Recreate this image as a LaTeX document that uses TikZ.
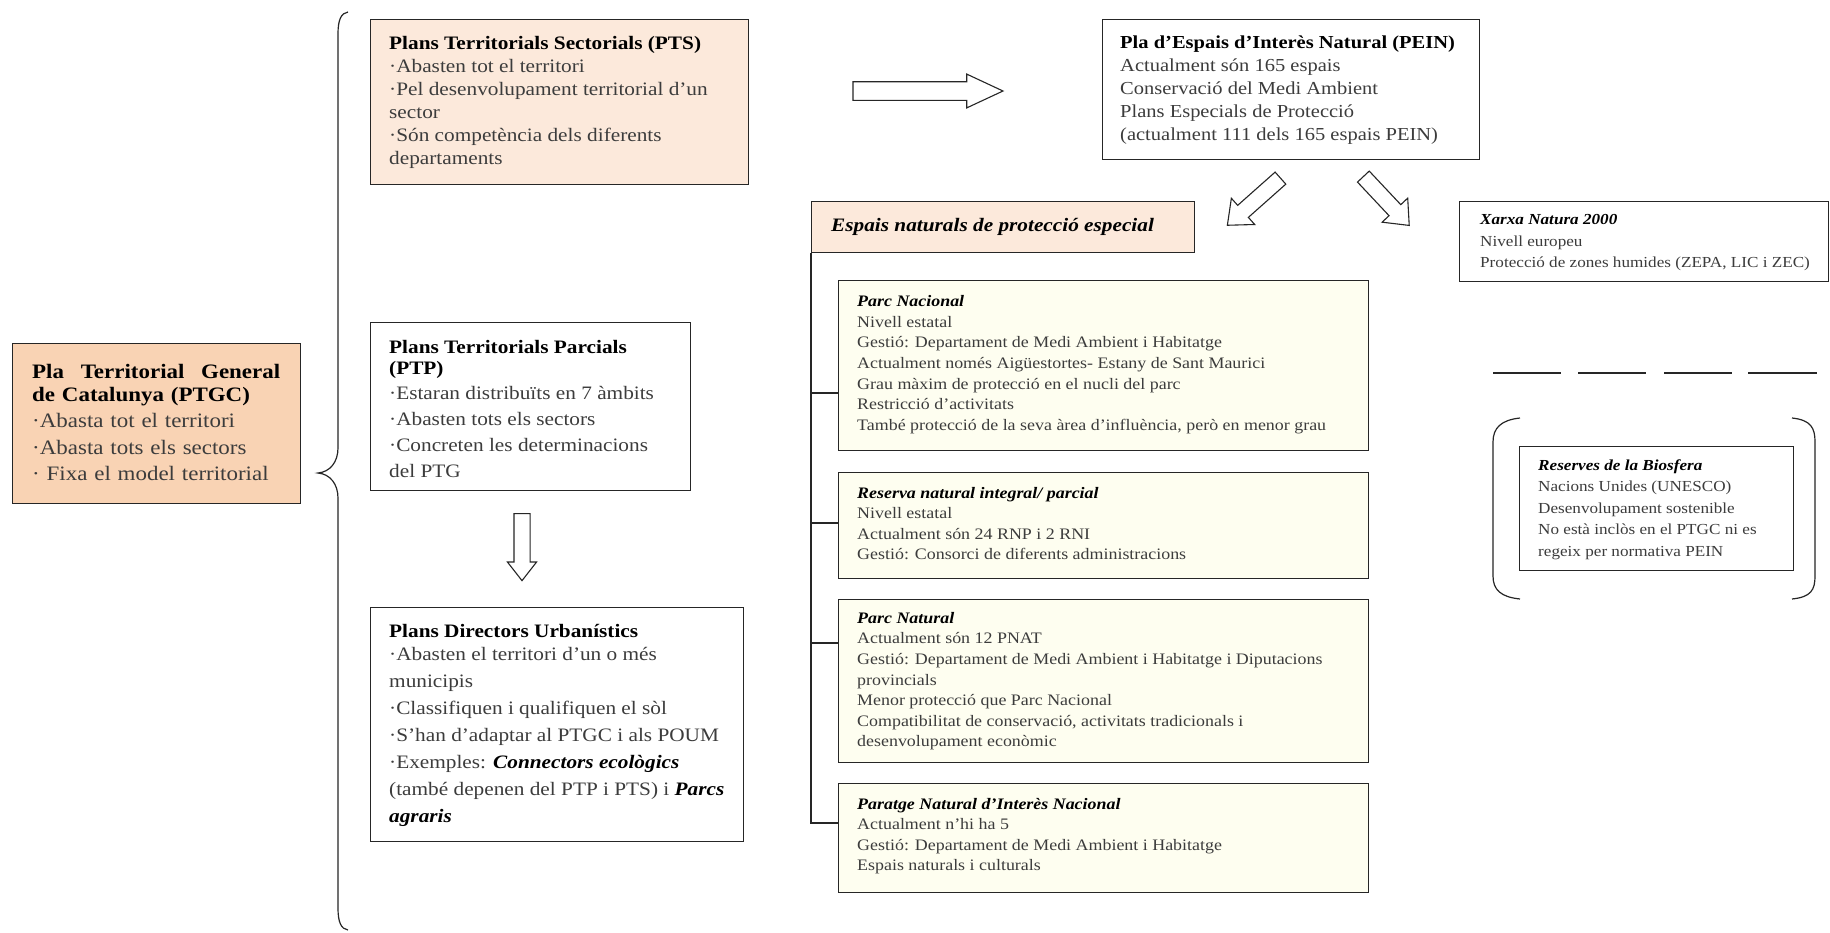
\documentclass[tikz,border=0pt]{standalone}
\usepackage{fontspec}
\setmainfont{Liberation Serif}[FakeStretch=1.12]
\usetikzlibrary{shapes.arrows,calc}
\definecolor{peach}{HTML}{F9D3B4}
\definecolor{lpeach}{HTML}{FCE9DB}
\definecolor{ivory}{HTML}{FEFEF0}
\definecolor{bodytxt}{HTML}{3C3C3C}
\definecolor{edge}{HTML}{262626}
\newcommand\boxhead[1]{{\color{black}\bfseries #1}}
\newcommand\boxheadit[1]{{\color{black}\bfseries\itshape #1}}
\begin{document}
\begin{tikzpicture}[x=1pt,y=-1pt,
  box/.style={draw=edge, line width=1.3pt, anchor=north west, inner sep=0pt},
  btext/.style={anchor=west, align=left, inner sep=0pt, text=bodytxt},
  bigtxt/.style={font=\fontsize{19}{23}\selectfont},
  smalltxt/.style={font=\fontsize{16}{20.6}\selectfont},
  tinytxt/.style={font=\fontsize{15.3}{21.5}\selectfont},
  yellowbox/.style={box, fill=ivory, minimum width=530pt},
  blockarrow/.style={single arrow, draw=edge, fill=white, line width=1.1pt, inner sep=0pt},
  conn/.style={draw=edge, line width=1.3pt}]
\fill[white] (0,0) rectangle (1830,932);
\useasboundingbox (0,0) rectangle (1830,932);

% left column
\node[box, fill=peach, minimum width=288pt, minimum height=160pt] (ptgc) at (12,343) {};
\node[btext, font=\fontsize{20.5}{26.5}\selectfont, text width=248pt] (ptgcT) at ($(ptgc.west)+(20,-1)$)
 {\boxhead{Pla\hfill Territorial\hfill General}\\[-3.5pt]\boxhead{de Catalunya (PTGC)}\\·Abasta tot el territori\\·Abasta tots els sectors\\· Fixa el model territorial};

\draw[conn, line width=1.2pt] (348,12) .. controls (341,13) and (338,20) .. (338,34) -- (338,448)
  .. controls (338,462) and (330,472) .. (318,473) .. controls (330,474) and (338,484) .. (338,498)
  -- (338,908) .. controls (338,922) and (341,929) .. (348,930);

\node[box, fill=lpeach, minimum width=378pt, minimum height=165pt] (pts) at (370,19) {};
\node[btext, bigtxt] (ptsT) at ($(pts.west)+(19,0)$)
 {\boxhead{Plans Territorials Sectorials (PTS)}\\·Abasten tot el territori\\·Pel desenvolupament territorial d'un\\sector\\·Són competència dels diferents\\departaments};

\node[box, fill=white, minimum width=320pt, minimum height=168pt] (ptp) at (370,322) {};
\node[btext, font=\fontsize{19}{25.7}\selectfont] (ptpT) at ($(ptp.west)+(19,2)$)
 {\boxhead{Plans Territorials Parcials}\\[-4.7pt]\boxhead{(PTP)}\\·Estaran distribuïts en 7 àmbits\\·Abasten tots els sectors\\·Concreten les determinacions\\del PTG};

\node[box, fill=white, minimum width=373pt, minimum height=234pt] (pdu) at (370,607) {};
\node[btext, font=\fontsize{19}{27}\selectfont] (pduT) at ($(pdu.west)+(19,1)$)
 {\boxhead{Plans Directors Urbanístics}\\[-4pt]·Abasten el territori d'un o més\\municipis\\·Classifiquen i qualifiquen el sòl\\·S'han d'adaptar al PTGC i als POUM\\·Exemples: \boxheadit{Connectors ecològics}\\(també depenen del PTP i PTS) i \boxheadit{Parcs}\\\boxheadit{agraris}};

\node[blockarrow, minimum height=67pt, single arrow head extend=6.5pt, single arrow tip angle=76, rotate=-90] (adown) at (522,542) {\rule{0pt}{15pt}};

% top right
\node[blockarrow, minimum height=150pt, single arrow head extend=7.6pt, single arrow tip angle=50] (aright) at (918,91) {\rule{0pt}{17.5pt}};

\node[box, fill=white, minimum width=377pt, minimum height=140pt] (pein) at (1102,19) {};
\node[btext, font=\fontsize{18.3}{23}\selectfont] (peinT) at ($(pein.west)+(18,0)$)
 {\boxhead{Pla d'Espais d'Interès Natural (PEIN)}\\Actualment són 165 espais\\Conservació del Medi Ambient\\Plans Especials de Protecció\\(actualment 111 dels 165 espais PEIN)};

\node[blockarrow, minimum height=71pt, single arrow head extend=9.5pt, single arrow tip angle=80, rotate=221.6] (adl) at (1257.5,198.5) {\rule{0pt}{15pt}};
\node[blockarrow, minimum height=67pt, single arrow head extend=9.5pt, single arrow tip angle=80, rotate=-46.8] (adr) at (1383,197.5) {\rule{0pt}{15pt}};

\node[box, fill=lpeach, line width=1pt, minimum width=383pt, minimum height=51pt] (esp) at (811,201) {};
\node[btext, bigtxt] (espT) at ($(esp.west)+(20,0)$) {\boxheadit{Espais naturals de protecció especial}};

\node[yellowbox, minimum height=170pt] (pn) at (838,280) {};
\node[btext, smalltxt] (pnT) at ($(pn.west)+(19,-1)$)
 {\boxheadit{Parc Nacional}\\Nivell estatal\\Gestió: Departament de Medi Ambient i Habitatge\\Actualment només Aigüestortes- Estany de Sant Maurici\\Grau màxim de protecció en el nucli del parc\\Restricció d'activitats\\També protecció de la seva àrea d'influència, però en menor grau};
\node[yellowbox, minimum height=106pt] (rn) at (838,472) {};
\node[btext, smalltxt] (rnT) at ($(rn.west)+(19,-2)$)
 {\boxheadit{Reserva natural integral/ parcial}\\Nivell estatal\\Actualment són 24 RNP i 2 RNI\\Gestió: Consorci de diferents administracions};
\node[yellowbox, minimum height=163pt] (pnat) at (838,599) {};
\node[btext, smalltxt] (pnatT) at ($(pnat.west)+(19,0)$)
 {\boxheadit{Parc Natural}\\Actualment són 12 PNAT\\Gestió: Departament de Medi Ambient i Habitatge i Diputacions\\provincials\\Menor protecció que Parc Nacional\\Compatibilitat de conservació, activitats tradicionals i\\desenvolupament econòmic};
\node[yellowbox, minimum height=109pt] (pni) at (838,783) {};
\node[btext, smalltxt] (pniT) at ($(pni.west)+(19,-2)$)
 {\boxheadit{Paratge Natural d'Interès Nacional}\\Actualment n'hi ha 5\\Gestió: Departament de Medi Ambient i Habitatge\\Espais naturals i culturals};

\coordinate (b1) at ($(pn.north west)+(0,113)$);
\coordinate (b2) at ($(rn.north west)+(0,51)$);
\coordinate (b3) at ($(pnat.north west)+(0,44)$);
\coordinate (b4) at ($(pni.north west)+(0,40)$);
\draw[conn] (esp.south west) -- (esp.south west |- b4) -- (b4);
\foreach \b in {b1,b2,b3} \draw[conn] (esp.south west |- \b) -- (\b);

% far right
\node[box, fill=white, minimum width=369pt, minimum height=80pt] (xn) at (1459,201) {};
\node[btext, tinytxt] (xnT) at ($(xn.west)+(21,1)$)
 {\boxheadit{Xarxa Natura 2000}\\Nivell europeu\\Protecció de zones humides (ZEPA, LIC i ZEC)};

\foreach \a/\b in {1493/1561,1578/1646,1664/1732,1748/1817} \draw[conn] (\a,373) -- (\b,373);

\draw[conn, line width=1.2pt] (1520,418) .. controls (1501,420) and (1493,428) .. (1493,442) -- (1493,576)
  .. controls (1493,590) and (1501,597) .. (1520,599);
\draw[conn, line width=1.2pt] (1792,418) .. controls (1811,420) and (1815,428) .. (1815,442) -- (1815,576)
  .. controls (1815,590) and (1811,597) .. (1792,599);

\node[box, fill=white, minimum width=274pt, minimum height=124pt] (rb) at (1519,446) {};
\node[btext, tinytxt] (rbT) at ($(rb.west)+(19,1)$)
 {\boxheadit{Reserves de la Biosfera}\\Nacions Unides (UNESCO)\\Desenvolupament sostenible\\No està inclòs en el PTGC ni es\\regeix per normativa PEIN};
\end{tikzpicture}
\end{document}
